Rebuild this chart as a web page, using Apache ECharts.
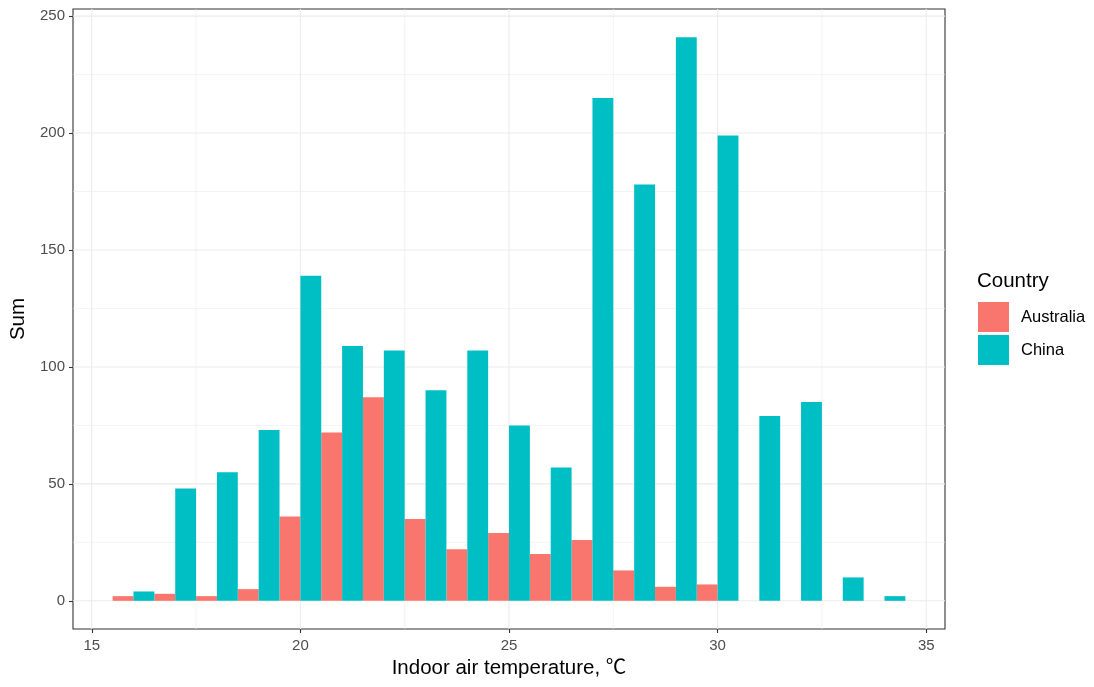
<!DOCTYPE html>
<html><head><meta charset="utf-8">
<script src="https://cdn.jsdelivr.net/npm/echarts@6/dist/echarts.min.js"></script>
<style>html,body{margin:0;padding:0;background:#fff}#c{width:1094px;height:687px}</style>
</head><body><div id="c"></div>
<script>
// ---- data ----
const binCenters = [16,17,18,19,20,21,22,23,24,25,26,27,28,29,30,31,32,33,34];
const australia  = [2,3,2,5,36,72,87,35,22,29,20,26,13,6,7,0,0,0,0];
const china      = [4,48,55,73,139,109,107,90,107,75,57,215,178,241,199,79,85,10,2];
const binWidth = 1;
const xTicks = [15,20,25,30,35];
const xMinor = [17.5,22.5,27.5,32.5];
const yTicks = [0,50,100,150,200,250];
const yMinor = [25,75,125,175,225];
const seriesNames = ['Australia','China'];
const colors = ['#F8766D','#00BFC4'];

const FONT = '"Liberation Sans", Arial, "Noto Sans CJK SC", "DejaVu Sans", sans-serif';

function barRenderer(leftOff, rightOff) {
  return function (params, api) {
    const c = api.value(0), v = api.value(1);
    if (!v) return null;
    const p0 = api.coord([c + leftOff, 0]);
    const p1 = api.coord([c + rightOff, v]);
    return {
      type: 'rect',
      shape: { x: p0[0], y: p1[1], width: p1[0] - p0[0], height: p0[1] - p1[1] },
      style: { fill: api.visual('color') }
    };
  };
}

function gridRenderer(params, api) {
  const cs = params.coordSys;
  const children = [];
  const vline = (v, w) => {
    const x = api.coord([v, 0])[0];
    children.push({ type: 'line', shape: { x1: x, y1: cs.y, x2: x, y2: cs.y + cs.height },
      style: { stroke: '#EBEBEB', lineWidth: w } });
  };
  const hline = (v, w) => {
    const y = api.coord([20, v])[1];
    children.push({ type: 'line', shape: { x1: cs.x, y1: y, x2: cs.x + cs.width, y2: y },
      style: { stroke: '#EBEBEB', lineWidth: w } });
  };
  xMinor.forEach(v => vline(v, 0.6));
  yMinor.forEach(v => hline(v, 0.6));
  xTicks.forEach(v => vline(v, 1.1));
  yTicks.forEach(v => hline(v, 1.1));
  return { type: 'group', children };
}

const chart = echarts.init(document.getElementById('c'), null, { renderer: 'canvas' });
const option = {
  animation: false,
  backgroundColor: '#fff',
  color: colors,
  textStyle: { fontFamily: FONT },
  grid: { left: 73, right: 149, top: 9, bottom: 58, show: true, borderColor: '#333333', borderWidth: 1.1, backgroundColor: 'transparent' },
  xAxis: {
    type: 'value', min: 14.55, max: 35.45,
    axisLine: { show: false, onZero: false },
    splitLine: { show: false },
    axisTick: { show: true, customValues: xTicks, length: 4, lineStyle: { color: '#333333', width: 1.1 } },
    axisLabel: { customValues: xTicks, color: '#4D4D4D', fontSize: 15, margin: 9, fontFamily: FONT },
    name: 'Indoor air temperature, ℃', nameLocation: 'middle', nameGap: 29,
    nameTextStyle: { color: '#000', fontSize: 20.5, fontFamily: FONT }
  },
  yAxis: {
    type: 'value', min: -12.05, max: 253.05,
    axisLine: { show: false, onZero: false },
    splitLine: { show: false },
    axisTick: { show: true, customValues: yTicks, length: 4, lineStyle: { color: '#333333', width: 1.1 } },
    axisLabel: { customValues: yTicks, color: '#4D4D4D', fontSize: 15, margin: 8, fontFamily: FONT },
    name: 'Sum', nameLocation: 'middle', nameGap: 44,
    nameTextStyle: { color: '#000', fontSize: 20.5, fontFamily: FONT }
  },
  legend: {
    data: seriesNames, orient: 'vertical', left: 973, top: 297,
    itemWidth: 31, itemHeight: 30, itemGap: 3, icon: 'rect',
    textStyle: { fontSize: 16.5, color: '#000', fontFamily: FONT, padding: [0, 0, 0, 7] }
  },
  graphic: [{
    type: 'text', left: 977, top: 271,
    style: { text: 'Country', fill: '#000', font: '20.5px ' + FONT }
  }],
  series: [
    { type: 'custom', name: '__grid', silent: true, z: 0, renderItem: gridRenderer,
      data: [[20, 0]], encode: { x: 0, y: 1 }, tooltip: { show: false } },
    { type: 'custom', name: seriesNames[0], z: 2, renderItem: barRenderer(-binWidth / 2, 0),
      itemStyle: { color: colors[0] },
      data: binCenters.map((c, i) => [c, australia[i]]), encode: { x: 0, y: 1 } },
    { type: 'custom', name: seriesNames[1], z: 2, renderItem: barRenderer(0, binWidth / 2),
      itemStyle: { color: colors[1] },
      data: binCenters.map((c, i) => [c, china[i]]), encode: { x: 0, y: 1 } }
  ]
};
chart.setOption(option);
</script>
</body></html>
